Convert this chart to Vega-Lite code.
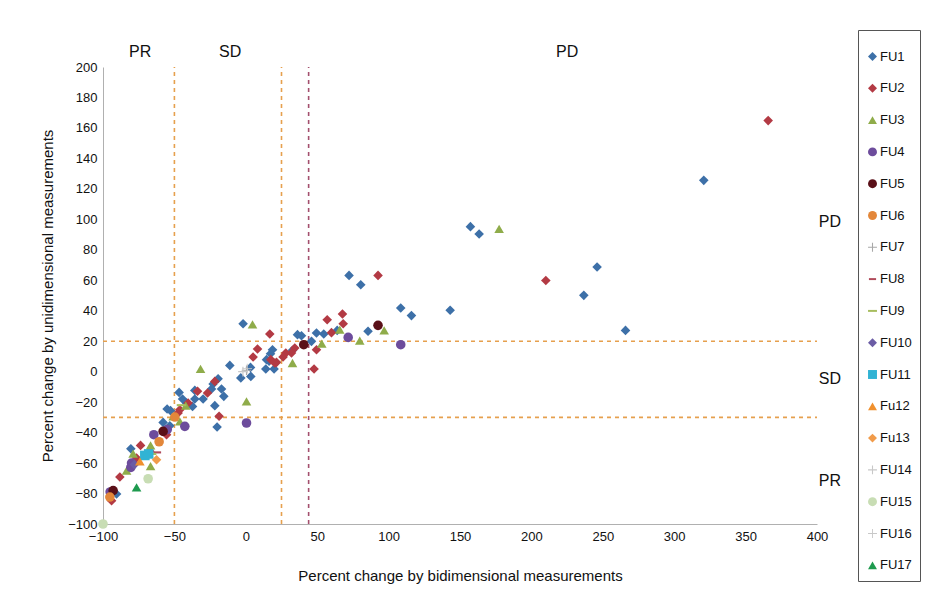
{
  "$schema": "https://vega.github.io/schema/vega-lite/v6.json",
  "width": 714,
  "height": 457,
  "autosize": {"type": "none"},
  "padding": {"left": 103, "top": 67, "right": 128, "bottom": 88},
  "background": "white",
  "config": {
    "font": "Liberation Sans",
    "view": {"stroke": null},
    "axis": {"grid": false, "ticks": false, "domainColor": "#b0b0b0", "labelColor": "#111", "titleColor": "#111", "labelFontSize": 13, "titleFontSize": 15, "titleFontWeight": "normal", "labelFont": "Liberation Sans", "titleFont": "Liberation Sans", "labelOverlap": false, "labelFlush": false, "labelBound": false},
    "axisY": {"labelOverlap": false, "labelSeparation": 0},
    "axisLeft": {"labelOverlap": false},
    "axisQuantitative": {"labelOverlap": false}
  },
  "datasets": {
    "pts": [
      {"s":"FU1","x":-1.9,"y":31.5},{"s":"FU1","x":18.7,"y":14.4},{"s":"FU1","x":17.3,"y":11.8},{"s":"FU1","x":16.3,"y":6.8},{"s":"FU1","x":14,"y":1.8},{"s":"FU1","x":19.8,"y":1.8},{"s":"FU1","x":3.3,"y":2.8},{"s":"FU1","x":-3.5,"y":-4.1},{"s":"FU1","x":3.5,"y":-3.1},{"s":"FU1","x":-11.2,"y":4.1},{"s":"FU1","x":-19.4,"y":-4.6},{"s":"FU1","x":-22.9,"y":-8.1},{"s":"FU1","x":-17,"y":-11.4},{"s":"FU1","x":-24,"y":-11.4},{"s":"FU1","x":-15.4,"y":-16.2},{"s":"FU1","x":-35.7,"y":-12.3},{"s":"FU1","x":-29.9,"y":-17.9},{"s":"FU1","x":-35.7,"y":-17.9},{"s":"FU1","x":-21.7,"y":-22.3},{"s":"FU1","x":-46.7,"y":-13.6},{"s":"FU1","x":-44.3,"y":-17.9},{"s":"FU1","x":-41.5,"y":-20.6},{"s":"FU1","x":-37.3,"y":-22.8},{"s":"FU1","x":-20.1,"y":-36.3},{"s":"FU1","x":-55.1,"y":-24.5},{"s":"FU1","x":-52.7,"y":-25.6},{"s":"FU1","x":-53.2,"y":-35.5},{"s":"FU1","x":-57.9,"y":-33.3},{"s":"FU1","x":-80.5,"y":-50.6},{"s":"FU1","x":-90.5,"y":-80.3},{"s":"FU1","x":64,"y":27.1},{"s":"FU1","x":49.5,"y":25.4},{"s":"FU1","x":54.6,"y":24.7},{"s":"FU1","x":36.2,"y":24.3},{"s":"FU1","x":39,"y":23.6},{"s":"FU1","x":85.6,"y":26.5},{"s":"FU1","x":46,"y":19.9},{"s":"FU1","x":32.7,"y":14},{"s":"FU1","x":14.5,"y":7.9},{"s":"FU1","x":157.3,"y":95.2},{"s":"FU1","x":163.4,"y":90.4},{"s":"FU1","x":246,"y":68.7},{"s":"FU1","x":236.7,"y":50.1},{"s":"FU1","x":265.9,"y":27.1},{"s":"FU1","x":320.7,"y":125.6},{"s":"FU1","x":143.1,"y":40.3},{"s":"FU1","x":108.5,"y":41.8},{"s":"FU1","x":116,"y":36.8},{"s":"FU1","x":72.3,"y":63.2},{"s":"FU1","x":80.5,"y":57.1},
      {"s":"FU2","x":16.8,"y":24.7},{"s":"FU2","x":8.2,"y":14.9},{"s":"FU2","x":5.1,"y":9.6},{"s":"FU2","x":17.5,"y":7.9},{"s":"FU2","x":21.5,"y":6.1},{"s":"FU2","x":-21.7,"y":-6.4},{"s":"FU2","x":-26.8,"y":-14},{"s":"FU2","x":-33.8,"y":-12.9},{"s":"FU2","x":-40.4,"y":-20.6},{"s":"FU2","x":-18.7,"y":-29.3},{"s":"FU2","x":-46.2,"y":-25},{"s":"FU2","x":-47.4,"y":-27.1},{"s":"FU2","x":-55.5,"y":-41.4},{"s":"FU2","x":-73.7,"y":-48.4},{"s":"FU2","x":-67.2,"y":-52.3},{"s":"FU2","x":-76.5,"y":-56.7},{"s":"FU2","x":-88.2,"y":-69.1},{"s":"FU2","x":-94,"y":-84.7},{"s":"FU2","x":67.7,"y":37.9},{"s":"FU2","x":57,"y":34.1},{"s":"FU2","x":68.2,"y":31.5},{"s":"FU2","x":60,"y":25.6},{"s":"FU2","x":49.5,"y":14.4},{"s":"FU2","x":47.8,"y":1.8},{"s":"FU2","x":34.3,"y":15.5},{"s":"FU2","x":32,"y":12.3},{"s":"FU2","x":28,"y":12.3},{"s":"FU2","x":26.1,"y":9.6},{"s":"FU2","x":20.3,"y":5.7},{"s":"FU2","x":365.8,"y":164.8},{"s":"FU2","x":210.1,"y":59.8},{"s":"FU2","x":92.6,"y":63.2},
      {"s":"FU3","x":4.7,"y":31},{"s":"FU3","x":0.5,"y":-19.5},{"s":"FU3","x":-31.7,"y":1.8},{"s":"FU3","x":-42,"y":-22.3},{"s":"FU3","x":-50.9,"y":-29.3},{"s":"FU3","x":-46.2,"y":-32.6},{"s":"FU3","x":-66.7,"y":-48.4},{"s":"FU3","x":-78.9,"y":-53.8},{"s":"FU3","x":-83.5,"y":-65},{"s":"FU3","x":-66.7,"y":-62},{"s":"FU3","x":65.8,"y":27.6},{"s":"FU3","x":96.9,"y":27.1},{"s":"FU3","x":79.8,"y":20.4},{"s":"FU3","x":53.2,"y":18.4},{"s":"FU3","x":32.7,"y":5.7},{"s":"FU3","x":177.4,"y":93.7},
      {"s":"FU4","x":0.5,"y":-33.7},{"s":"FU4","x":-42.7,"y":-35.9},{"s":"FU4","x":-64.4,"y":-41.4},{"s":"FU4","x":-80,"y":-60},{"s":"FU4","x":-80.5,"y":-62.8},{"s":"FU4","x":-95,"y":-79},{"s":"FU4","x":71.7,"y":22.5},{"s":"FU4","x":108.5,"y":17.7},{"s":"FU4","x":-55,"y":-38},
      {"s":"FU5","x":-57.9,"y":-39.2},{"s":"FU5","x":-92.9,"y":-78.1},{"s":"FU5","x":40.6,"y":17.7},{"s":"FU5","x":92.6,"y":30.4},
      {"s":"FU6","x":-49.7,"y":-29.8},{"s":"FU6","x":-60.7,"y":-46},{"s":"FU6","x":-95.2,"y":-82.3},
      {"s":"FU7","x":0.5,"y":0.9},
      {"s":"FU8","x":-62,"y":-53},
      {"s":"FU9","x":-66,"y":-54},{"s":"FU9","x":-45,"y":-22},
      {"s":"FU10","x":-78,"y":-61},
      {"s":"FU11","x":-70.7,"y":-55},{"s":"FU11","x":-68,"y":-54},
      {"s":"Fu12","x":-74.2,"y":-58.9},
      {"s":"Fu13","x":-62.5,"y":-57.8},
      {"s":"FU14","x":-2,"y":0},
      {"s":"FU15","x":-68.4,"y":-70.3},{"s":"FU15","x":-100,"y":-100},
      {"s":"FU16","x":1,"y":2},
      {"s":"FU17","x":-76.5,"y":-76}
    ],
    "vrules": [
      {"x":-50,"y":-100,"y2":200,"c":"#e6a04e"},
      {"x":25,"y":-100,"y2":200,"c":"#e6a04e"},
      {"x":44,"y":-100,"y2":200,"c":"#a4506e"}
    ],
    "hrules": [
      {"y":20,"x":-100,"x2":400,"c":"#e6a04e"},
      {"y":-30,"x":-100,"x2":400,"c":"#e6a04e"}
    ],
    "labels": [
      {"x":-74,"y":210,"t":"PR"},
      {"x":-11,"y":210,"t":"SD"},
      {"x":225,"y":210,"t":"PD"},
      {"x":409,"y":98.5,"t":"PD"},
      {"x":409,"y":-5,"t":"SD"},
      {"x":409,"y":-71.5,"t":"PR"}
    ]
  },
  "layer": [
    {
      "data": {"name": "vrules"},
      "mark": {"type": "rule", "strokeDash": [4, 4], "strokeWidth": 1.6},
      "encoding": {
        "x": {"field": "x", "type": "quantitative", "scale": {"domain": [-100, 400], "nice": false},
              "title": "Percent change by bidimensional measurements",
              "axis": {"values": [-100,-50,0,50,100,150,200,250,300,350,400], "labelPadding": 6, "titlePadding": 25, "labelOverlap": false}},
        "y": {"field": "y", "type": "quantitative", "scale": {"domain": [-100, 200], "nice": false},
              "title": "Percent change by unidimensional measurements",
              "axis": {"tickCount": 16, "values": [-100,-80,-60,-40,-20,0,20,40,60,80,100,120,140,160,180,200], "labelPadding": 6, "titlePadding": 12, "labelOverlap": false}},
        "y2": {"field": "y2"},
        "stroke": {"field": "c", "type": "nominal", "scale": null}
      }
    },
    {
      "data": {"name": "hrules"},
      "mark": {"type": "rule", "strokeDash": [4, 4], "strokeWidth": 1.6},
      "encoding": {
        "x": {"field": "x", "type": "quantitative"},
        "x2": {"field": "x2"},
        "y": {"field": "y", "type": "quantitative"},
        "stroke": {"field": "c", "type": "nominal", "scale": null}
      }
    },
    {
      "data": {"name": "pts"},
      "mark": {"type": "point", "filled": true, "opacity": 1, "size": 92},
      "encoding": {
        "x": {"field": "x", "type": "quantitative"},
        "y": {"field": "y", "type": "quantitative"},
        "color": {"field": "s", "type": "nominal",
          "scale": {"domain": ["FU1","FU2","FU3","FU4","FU5","FU6","FU7","FU8","FU9","FU10","FU11","Fu12","Fu13","FU14","FU15","FU16","FU17"],
                    "range": ["#3d70a8","#b33a44","#8fac4a","#6d4c9c","#5a1018","#e3873a","#a8a8a8","#b04a5a","#a7bd5e","#6b5ca5","#31b3d4","#f0902e","#f19b4a","#c8c8c8","#c8ddb4","#c8c8c8","#1e9a4e"]},
          "legend": {"title": " ", "titleFontSize": 9, "titlePadding": 3, "orient": "none", "legendX": 755, "legendY": -37, "strokeColor": "#555", "padding": 8, "labelFontSize": 13, "labelColor": "#111", "rowPadding": 17.8, "symbolSize": 80, "labelOffset": 1, "symbolStrokeWidth": 0}
        },
        "shape": {"field": "s", "type": "nominal",
          "scale": {"domain": ["FU1","FU2","FU3","FU4","FU5","FU6","FU7","FU8","FU9","FU10","FU11","Fu12","Fu13","FU14","FU15","FU16","FU17"],
                    "range": ["diamond","diamond","triangle-up","circle","circle","circle",
                              "M-1,-0.12L-0.12,-0.12L-0.12,-1L0.12,-1L0.12,-0.12L1,-0.12L1,0.12L0.12,0.12L0.12,1L-0.12,1L-0.12,0.12L-1,0.12Z",
                              "M-0.8,-0.22L0.8,-0.22L0.8,0.22L-0.8,0.22Z",
                              "M-1,-0.22L1,-0.22L1,0.22L-1,0.22Z",
                              "diamond","square","triangle-up","diamond",
                              "M-1,-0.12L-0.12,-0.12L-0.12,-1L0.12,-1L0.12,-0.12L1,-0.12L1,0.12L0.12,0.12L0.12,1L-0.12,1L-0.12,0.12L-1,0.12Z",
                              "circle",
                              "M-1,-0.1L-0.1,-0.1L-0.1,-1L0.1,-1L0.1,-0.1L1,-0.1L1,0.1L0.1,0.1L0.1,1L-0.1,1L-0.1,0.1L-1,0.1Z",
                              "triangle-up"]},
          "legend": null
        }
      }
    },
    {
      "data": {"name": "labels"},
      "mark": {"type": "text", "fontSize": 16, "font": "Liberation Sans", "color": "#111", "align": "center", "baseline": "middle"},
      "encoding": {
        "x": {"field": "x", "type": "quantitative"},
        "y": {"field": "y", "type": "quantitative"},
        "text": {"field": "t"}
      }
    }
  ]
}
